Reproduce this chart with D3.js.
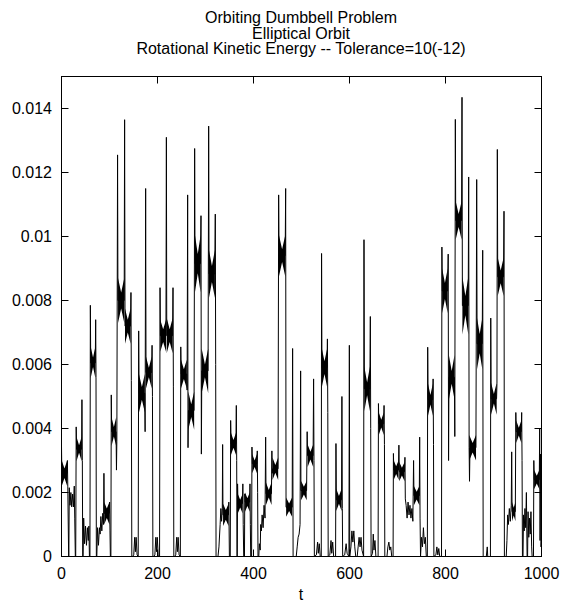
<!DOCTYPE html>
<html>
<head>
<meta charset="utf-8">
<script src="https://cdn.jsdelivr.net/npm/d3@7/dist/d3.min.js"></script>
<style>
  html, body { margin: 0; padding: 0; background: #fff; }
  svg text { font-family: "Liberation Sans", Arial, Helvetica, sans-serif; fill: #000; }
</style>
</head>
<body>
<div class="chart"></div>
<script>
const titleLines = ['Orbiting Dumbbell Problem', 'Elliptical Orbit', 'Rotational Kinetic Energy -- Tolerance=10(-12)']
const xTicks = [0, 200, 400, 600, 800, 1000]
const yTicks = [0, 0.002, 0.004, 0.006, 0.008, 0.01, 0.012, 0.014]
const yTickLabels = ['0', '0.002', '0.004', '0.006', '0.008', '0.01', '0.012', '0.014']

// trace: [t, energy in units of 1e-3]
const trace1 = [[0,3.45],[0.7,2.6],[11.6,2.6],[12.3,3.0],[13.1,2.2],[14.9,0],
  [15.3,0],[16.2,2.15],[17.8,1.6],[19.5,2.0],[21.3,1.55],[23.2,1.95],[25,1.55],[26.6,2.2],[27.6,1.2],[28.8,0],
  [29.6,0],[30.6,4.05],[31.4,3.35],[41.8,3.35],[42.6,4.9],[43.4,3.0],[44.2,0],
  [45,0],[46.2,1.2],[48,0.4],[50,0.95],[52,0.35],[54,0.9],[55.8,0.5],[57,0.95],[58.2,0],
  [59.3,0],[60.1,7.85],[60.9,6.05],[70.4,6.05],[71.2,7.4],[71.9,5.6],[72.6,0],
  [73.6,0],[75,0.9],[77,0.35],[79,0.9],[80.5,0.7],[82,1.25],[84,0.8],[86,1.35],[87.6,1.0],
  [88.4,2.6],[89.2,1.35],[99.4,1.35],[100.2,1.7],[101,0.8],[101.8,0],
  [102.9,0],[103.7,5.05],[104.5,3.9],[113.7,3.9],[114.5,2.7],[115.3,3.6],[116.8,12.55],
  [117.6,8.0],[130.6,8.0],[131.5,13.65],
  [132.3,7.2],[143.7,7.2],[144.7,8.25],[145.5,5.5],[146.5,0],
  [148,0],[150.5,0.05],[152.5,0.6],[154,0.15],[155.5,0.6],[157.5,0.05],[159.8,0],
  [160.8,7.05],[161.6,5.1],[173.4,5.1],[174.2,3.9],[175.3,11.5],
  [176.1,5.75],[187.8,5.75],[188.7,6.6],[189.5,5.0],[190.4,0],
  [192,0],[194.5,0.05],[196.5,0.6],[198,0.15],[199.5,0.6],[201.5,0.05],[204.3,0],
  [205.3,8.4],[206.1,6.9],[217.6,6.9],[218.5,13.1],
  [219.3,6.9],[231.4,6.9],[232.3,8.4],[233.1,5.3],[234,0],
  [235.5,0],[238,0.05],[240,0.6],[241.5,0.15],[243,0.6],[245,0.05],[247.6,0]]

const trace2 = [[248.5,6.55],[249.3,5.7],[260.8,5.7],[261.7,5.2],[262.8,11.3],
  [263.6,3.4],[264.4,4.56],[276.2,4.56],[277.4,12.75],
  [278.2,9.15],[289.6,9.15],[290.6,10.65],
  [291.4,3.2],[292.3,5.8],[305.4,5.8],[306.6,13.45],
  [307.4,8.83],[319.4,8.83],[320.4,10.7],[321.2,6.0],[322,0],
  [326,0],[328,0.3],[330.5,1.0],[332,1.5],[333.5,1.1],[335,1.5],[335.7,3.5],
  [336.4,1.3],[347.8,1.3],[348.6,1.7],[349.8,0],
  [351.6,0],[352.4,4.25],[353.2,3.52],[363.4,3.52],[364.2,4.72],[365,3.0],[365.6,0],
  [366.2,0],[366.8,2.27],[367.6,1.65],[377,1.65],[377.8,2.27],[378.6,1.0],[379.6,0],
  [381.2,0],[381.8,1.96],[382.6,1.7],[392,1.7],[392.7,2.27],[393.4,1.0],[394.2,0],
  [396,0],[396.8,3.42],[397.6,2.9],[407,2.9],[407.9,3.3],[408.6,2.0],[409.4,0],
  [411,0],[412.2,0.4],[414,0.2],[415,1.0],[416.5,0.8],[418,1.3],[420,0.9],[422,1.6],[424,1.2],
  [425.3,3.73],[426.1,1.96],[437.4,1.96],[438.3,3.3],[439,2.6],
  [439.8,2.74],[451.2,2.74],[452.4,11.3],
  [453.2,9.4],[466,9.4],[467,11.5],
  [467.8,1.54],[480.6,1.54],[481.5,6.5],[482.5,0],
  [489,0],[491,0.3],[493,0.6],[495,0.7],[497,1.0],[498.2,5.8]]

const trace3 = [[498.8,2.06],[510.6,2.06],[511.8,3.9],[512.6,3.15],[524.2,3.15],[525.2,5.55],[526,3.0],[526.8,0],
  [531,0.05],[533.5,0.45],[535,0.1],[537,0.4],[539,0],[541.2,0],
  [541.8,9.47],[542.6,5.9],[553.2,5.9],[554,6.8],[554.8,4.5],[555.6,0],
  [559,0.05],[561.5,0.5],[563,0.1],[565,0.45],[567,0],[571,0],
  [571.8,3.53],[572.6,1.77],[583.4,1.77],[584.2,5.0],[585,1.5],[585.8,0],
  [590,0.05],[593,0.4],[595,0.1],[598.8,0],[599.7,6.6],[600.5,0],
  [603,0.3],[605,0.8],[607,0.45],[609,0.8],[611,0.3],[613,0],[616,0],[618,0.3],[620,0.6],[622,0.3],[624,0.6],[626,0.2],[629.4,0],
  [630.2,9.9],[631,5.24],[642.4,5.24],[643.4,7.5],[644.2,4.0],[645,0],
  [648,0.1],[649.5,0.7],[651,0.2],[653,0.5],[655,0],[659.6,0],
  [660.3,4.78],[661.1,4.15],[671.2,4.15],[672,4.72],[672.8,3.5],[673.6,0],
  [678,0],[680,0.3],[682,0.45],[684,0.2],[686,0.3],[688,0],[690.8,0],
  [691.5,3.22],[692.3,2.7],[702,2.7],[702.9,3.48],[703.7,2.65],[714.6,2.65],[715.5,3.1],[716.3,1.8],
  [718,1.6],[720,1.2],[722,1.7],[724,1.3],[726,1.6],[728,1.2],[730,1.5],[732,1.1],[733.5,3.0],
  [734.3,1.9],[745.4,1.9],[746.2,3.73],[747,1.2],[748,0]]

const trace4 = [[750,0.6],[752,0.3],[754,0.9],[756,0.4],[758,0.6],[760,0],[762.2,0],
  [762.9,6.54],[763.7,4.9],[773.4,4.9],[774.2,5.55],[775,3.5],[775.8,0],
  [780,0.05],[782,0.3],[784,0.05],[786,0.25],[788,0],[791.7,0],
  [792.5,9.67],[793.3,8.3],[804.4,8.3],[805.6,9.45],
  [806.4,3.0],[807.2,5.6],[818.6,5.6],[819.4,3.75],[820.5,13.66],
  [821.3,10.5],[833.4,10.5],[834.4,14.35],
  [835.2,7.84],[847.3,7.84],[848.3,11.86],
  [849.2,3.4],[850,2.35],[851,3.4],[863.4,3.4],[865,11.78],
  [865.8,6.65],[876.5,6.65],[877.5,9.57],[878.5,0],
  [885,0],[887,0.3],[888,0],[893.6,0],
  [894.3,7.45],[895.1,4.93],[906.4,4.93],[907.2,5.4],[908,12.72],
  [908.8,8.74],[920.9,8.74],[921.9,10.79],[922.7,0],
  [926.5,0],[928,0.5],[929.5,1.3],[931,1.0],[933,1.5],[935,1.1],[937,1.6],[937.9,3.27],
  [938.7,1.4],[945.5,1.4],[946.5,4.5],[947.3,3.9],[957.8,3.9],[958.7,4.5],[959.5,3.0],[960.3,0],
  [961.5,0],[962.5,1.3],[964,0.8],[965.5,1.5],[967,0.9],[968.5,2.0],[970,0],[971,0],[972,1.4],[973.5,0.6],[975,1.2],[976.5,0.7],[978,1.4],[979.5,0.3],[980.5,0],[982.5,0],
  [983.3,0],[984,3.0],[984.8,2.4],[995.4,2.4],[996.2,4.0],[997,0.5],[998,3.2],[999,0.3],[1000,0.6]]

// fast oscillation too dense to resolve: [tStart, tEnd, centre, half width at ends, half width at middle] (1e-3)
const bands = [[0.6,11.8,2.6,0.4,0.15],[31.2,42,3.36,0.38,0.12],[60.7,70.7,6.07,0.5,0.15],[89,99.8,1.35,0.35,0.15],
  [104.3,113.9,3.9,0.45,0.15],[117.8,130.8,8.0,0.7,0.25],[132.3,143.9,7.2,0.55,0.2],[161.4,173.6,5.1,0.6,0.2],
  [176,188,5.75,0.5,0.15],[205.8,217.8,6.9,0.5,0.2],[219.2,231.6,6.9,0.55,0.2],[249,261,5.7,0.45,0.15],
  [264.2,276.4,4.56,0.6,0.2],[278,289.8,9.15,0.9,0.3],[292,305.6,5.8,0.7,0.2],[307.2,319.6,8.83,0.75,0.25],
  [336.6,348,1.3,0.35,0.15],[353,363.6,3.52,0.35,0.12],[367.4,377.2,1.65,0.3,0.12],[382.4,392.2,1.7,0.3,0.12],
  [397.4,407.2,2.9,0.3,0.1],[426,437.6,1.96,0.35,0.12],[439.6,451.4,2.74,0.35,0.12],[453,466.2,9.4,0.65,0.2],
  [468,480.4,1.54,0.3,0.12],[499.2,510.8,2.06,0.3,0.12],[512.8,524.4,3.15,0.35,0.12],[542.4,553.4,5.9,0.6,0.2],
  [572.4,583.6,1.77,0.35,0.12],[630.8,642.6,5.24,0.7,0.2],[661,671.4,4.15,0.35,0.12],[692.2,702.2,2.7,0.3,0.12],
  [703.6,714.8,2.65,0.3,0.12],[734.2,745.6,1.9,0.3,0.12],[763.6,773.6,4.9,0.5,0.15],[793,804.6,8.3,0.7,0.25],
  [807,818.8,5.6,0.7,0.2],[821.2,833.6,10.5,0.6,0.2],[835.2,847.5,7.84,0.9,0.3],[849.4,863.6,3.4,0.4,0.15],
  [865.8,876.7,6.65,0.8,0.3],[895,906.6,4.93,0.5,0.15],[908.8,921.1,8.74,0.6,0.2],[938.6,945.7,1.4,0.3,0.12],
  [947.4,958,3.9,0.35,0.12],[984.6,995.6,2.4,0.3,0.12]]

const trace = trace1.concat(trace2, trace3, trace4)

let width = 561, height = 604
let plotLeft = 61.5, plotRight = 541.5, plotTop = 76.5, plotBottom = 556.5

let svg = d3.select('.chart')
.append('svg')
.attr('width', width)
.attr('height', height)

let x = d3.scaleLinear().domain([0, 1000]).range([plotLeft, plotRight])
let y = d3.scaleLinear().domain([0, 0.015]).range([plotBottom, plotTop])

// title
svg.append('g').selectAll('text')
.data(titleLines)
.enter()
.append('text')
.attr('x', 301)
.attr('y', (d, i) => 23 + i * 15.5)
.attr('text-anchor', 'middle')
.style('font-size', '16px')
.text(d => d)

let plot = svg.append('g')

plot.append('defs').append('clipPath').attr('id', 'clip')
.append('rect').attr('x', plotLeft).attr('y', plotTop).attr('width', plotRight - plotLeft).attr('height', plotBottom - plotTop)

let inner = plot.append('g').attr('clip-path', 'url(#clip)')

// fuzzy bands, bow-tie shaped
inner.append('g').selectAll('path')
.data(bands)
.enter()
.append('path')
.attr('d', d => {
  let ts = d[0], te = d[1], c = d[2], e = d[3], m = d[4], tm = (ts + te) / 2
  let pts = [[ts, c + e], [tm, c + m], [te, c + e], [te, c - e], [tm, c - m], [ts, c - e]]
  return 'M' + pts.map(p => x(p[0]) + ',' + y(p[1] * 1e-3)).join('L') + 'Z'
})
.attr('fill', '#000')

let line = d3.line()
.x(d => x(d[0]))
.y(d => y(d[1] * 1e-3))

inner.append('path')
.datum(trace)
.attr('d', line)
.style('fill', 'none')
.style('stroke', '#000')
.style('stroke-width', 1)

// axes: gnuplot style mirrored inward ticks
let tick = 7
let axes = svg.append('g').attr('stroke', '#000').attr('stroke-width', 1).attr('fill', 'none')

axes.selectAll('.xt')
.data(xTicks)
.enter()
.append('path')
.attr('d', d => {
  let px = Math.round(x(d) - 0.5) + 0.5
  return 'M' + px + ',' + plotBottom + 'v' + (-tick) + 'M' + px + ',' + plotTop + 'v' + tick
})

axes.selectAll('.yt')
.data(yTicks)
.enter()
.append('path')
.attr('d', d => {
  let py = Math.round(y(d) - 0.5) + 0.5
  return 'M' + plotLeft + ',' + py + 'h' + tick + 'M' + plotRight + ',' + py + 'h' + (-tick)
})

axes.append('rect')
.attr('x', plotLeft).attr('y', plotTop)
.attr('width', plotRight - plotLeft).attr('height', plotBottom - plotTop)

svg.append('g').selectAll('text')
.data(xTicks)
.enter()
.append('text')
.attr('x', d => x(d))
.attr('y', 579)
.attr('text-anchor', 'middle')
.style('font-size', '16px')
.text(d => d)

svg.append('g').selectAll('text')
.data(yTicks)
.enter()
.append('text')
.attr('x', 52)
.attr('y', d => y(d) + 5.7)
.attr('text-anchor', 'end')
.style('font-size', '16px')
.text((d, i) => yTickLabels[i])

svg.append('text')
.attr('x', 301)
.attr('y', 600)
.attr('text-anchor', 'middle')
.style('font-size', '16px')
.text('t')
</script>
</body>
</html>
